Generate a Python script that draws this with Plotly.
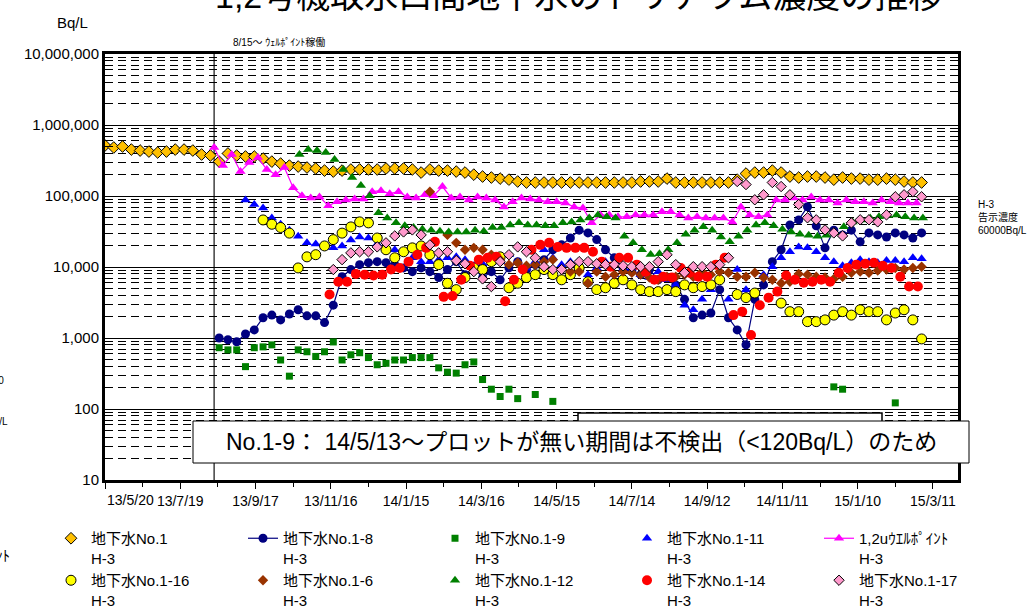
import pandas as pd
import plotly.graph_objects as go

FONT = "Liberation Sans, Arial, Noto Sans CJK JP, sans-serif"

# ---- data (weekly samples, Bq/L) ----
no1_start = "2013-05-20"
no1_vals = [515000, 482000, 498000, 451000, 437000, 423000, 410000, 423000, 451000, 451000, 437000, 384000,
            372000, 305000, 397000, 372000, 360000, 360000, 337000, 305000, 286000, 268000, 260000, 252000,
            244000, 228000, 221000, 228000, 236000, 236000, 236000, 236000, 244000, 244000, 244000, 236000,
            214000, 236000, 228000, 228000, 221000, 214000, 200000, 188000, 182000, 176000, 170000, 160000,
            155000, 155000, 155000, 155000, 155000, 155000, 155000, 155000, 155000, 155000, 155000, 155000,
            155000, 160000, 160000, 160000, 176000, 155000, 155000, 155000, 155000, 155000, 155000, 155000,
            170000, 207000, 214000, 214000, 228000, 214000, 188000, 182000, 188000, 188000, 182000, 170000,
            182000, 176000, 176000, 170000, 170000, 176000, 170000, 160000, 155000, 155000]

no1_8_start = "2013-08-19"
no1_8_vals = [1000, 944, 884, 1140, 1300, 1930, 2100, 1800, 2180, 2500,
              2050, 2050, 1650, 2900, 7300, 9200, 10800, 11500, 11900, 11500,
              10800, 9700, 8600, 9700, 8600, 7100, 9200, 11900, 7800, 9700,
              7100, 8600, 6600, 9700, 11900, 9200, 10800, 12700, 17500, 20500,
              25600, 33000, 30200, 24300, 17500, 13500, 9700, 8600, 7800, 9200,
              6600, 7100, 5600, 3500, 1930, 2100, 2250, 4800, 1930, 1300,
              802, 3500, 5600, 11900, 17500, 39000, 46000, 70500, 38000, 18600,
              33000, 28300, 33000, 22600, 30200, 28300, 26500, 30200, 28300, 25600, 30200]

no1_9_start = "2013-08-19"
no1_9_vals = [730, 680, 680, 395, 730, 750, 800, 490, 290, 680,
              640, 550, 640, 880, 490, 580, 620, 530, 420, 440,
              490, 490, 530, 530, 530, 380, 330, 320, 420, 460,
              260, 190, 150, 190, 140, None, 160, None, 128, None,
              None, None, None, None, None, None, None, None, None, None,
              None, None, None, None, None, None, None, None, None, None,
              None, None, None, None, None, None, None, None, None, None,
              205, 190, None, None, None, None, None, 122]

no1_11_start = "2013-09-09"
no1_11_vals = [88000, 76000, 68000, 49000, 40000, 33000, 27000, 22000, 21000, 19000,
               18600, 19800, 24000, 26500, 25600, 21000, 18600, 17500, 16400, 13500,
               11900, 11900, 12700, 13500, 13900, 12700, 10400, 11100, 11500, 11900,
               14900, 11900, 9700, 11900, 17500, 13500, 10800, 11900, 9700, 7800,
               9700, 11900, 7800, 9200, 9700, 7800, 7100, 8600, 6600, 5600,
               2900, 2500, 3500, 4800, 6600, 3500, 9200, 4800, 4300, 7800,
               10100, 13500, 16400, 19200, 18600, 16400, 13500, 11900, 10400, 11500,
               12700, 11900, 11500, 12300, 12300, 11900, 13500, 13100]

wp_start = "2013-08-15"
wp_vals = [482000, 268000, 384000, 221000, 296000, 348000, 236000, 200000, 252000, 131000,
           101000, 94000, 97000, 73000, 83000, 88000, 91000, 91000, 115000, 119000,
           108000, 115000, 97000, 94000, 104000, 101000, 136000, 94000, 97000, 88000,
           97000, 94000, 88000, 70000, 83000, 94000, 91000, 88000, 83000, 83000,
           80000, 70000, 68000, 42000, 54000, 54000, 51000, 51000, 54000, 54000,
           54000, 60000, 60000, 54000, 49000, 51000, 49000, 49000, 49000, 43000,
           70000, 54000, 51000, 54000, 88000, 88000, 94000, 88000, 97000, 88000,
           88000, 80000, 88000, 83000, 83000, 80000, 88000, 83000, 80000, 80000, 80000]

no1_16_start = "2013-09-23"
no1_16_vals = [46000, 40000, 36000, 30000, 9700, 13900, 14900, 19800, 24300, 30000,
               36700, 43200, 41800, 25600, 17500, 13500, 16400, 18600, 19800, 14900,
               10800, 5900, 4800, 7100, 9700, 9200, 11900, 13900, 5100, 5900,
               7100, 7800, 9200, 7800, 6600, 7800, 9700, 6200, 4800, 5100,
               5900, 6600, 5600, 4800, 4500, 4500, 4800, 4500, 5600, 5100,
               5300, 5600, 6600, None, 4100, 3700, 4300, None, None, 3100,
               2350, 2350, 1700, 1700, 1800, 2100, 2350, 2100, 2500, 2350,
               2350, 1800, 2250, 2500, 1800, 970]

no1_6_start = "2014-02-03"
no1_6_vals = [115000, None, 28300, 21900, 17500, 18600, 17500, 14900, 12700, 10800,
              11500, 10400, 10800, 11900, 12700, 9200, 8600, 8600, 5900, 8600,
              7300, 7800, 8600, 8300, 7800, 7100, 6600, 7300, 7300, 7800,
              7300, 8600, 7800, 8600, 8300, 7300, 7300, 8300, 7100, 6600,
              5900, 6200, 8000, 7800, 7300, 7100, 6800, 7300, 8300, 8600,
              8300, 8900, 9200, 9700, 9200, 9700, 10100]

no1_12_start = "2013-10-22"
no1_12_vals = [384000, 451000, 437000, 410000, 326000, 236000, 182000, 140000, 101000, 58000,
               49000, 42000, 38000, 36000, 34000, 33000, 32000, 31000, 31000, 31000,
               33000, 32000, 36000, 36000, 39000, 42000, 39000, 39000, 38000, 38000,
               42000, 43000, 46000, 49000, 54000, 51000, 49000, 27000, 22000, 17500,
               15000, 15400, 17500, 22000, 29000, 33000, 37000, 33000, 26500, 22600,
               27000, 33000, 39000, 42000, 38000, 34000, 31000, 29000, 28000, 27000,
               28000, 30000, 37000, 43000, 46000, 49000, 51000, 53000, 54000, 51000, 49000, 49000]

no1_14_start = "2013-11-15"
no1_14_vals = [4100, 6200, 6200, 8000, 7800, 7600, 7800, 9200, 9700, 11900,
               14900, 18600, 22600, 3800, 3900, 6600, 10400, 12700, 13500, 13900,
               3300, 6600, 9200, 17500, 20500, 21900, 19200, 18600, 18600, 18600,
               16400, 11900, 10100, 13500, 13500, 10800, 8600, 6600, 7300, 7100,
               9700, 8300, 7300, 7300, 10800, 13500, 2100, 2350, 1100, 2900,
               3700, 4500, 7600, 6600, 6000, 6200, 6600, 6200, 8300, 9700,
               10800, 11100, 11500, 10400, 9700, 7300, 5300, 5300]

no1_17_start = "2013-11-18"
no1_17_vals = [9200, 12700, 15800, 16400, 16400, 19200, 21900, 27400, 31200, 33300,
               28300, 20500, 15800, 16400, 12300, 11100, 8600, 6800, 5300, 11900,
               14900, 19200, 16400, 13500, 10100, 9200, 9200, 10800, 11900, 11900,
               11100, 10800, 10800, 10400, 10100, 10100, 10100, 11900, 14900, 10800,
               8300, 10100, 10100, 10100, 10800, 13500, 160000, 145000, 88500, 104000,
               155000, 136000, 104000, 76000, 49300, 46200, 33300, 30200, 27400, 41800,
               46200, 46200, 43200, 54300, 97500, 104000, 115000, 97500]

x_tick_dates = ["2013-05-20", "2013-07-19", "2013-09-17", "2013-11-16", "2014-01-15", "2014-03-16",
                "2014-05-15", "2014-07-14", "2014-09-12", "2014-11-11", "2015-01-10", "2015-03-11"]
x_tick_labels = ["13/5/20", "13/7/19", "13/9/17", "13/11/16", "14/1/15", "14/3/16",
                 "14/5/15", "14/7/14", "14/9/12", "14/11/11", "15/1/10", "15/3/11"]
y_tick_vals = [10, 100, 1000, 10000, 100000, 1000000, 10000000]
y_tick_labels = ["10", "100", "1,000", "10,000", "100,000", "1,000,000", "10,000,000"]

limit_value = 60000          # H-3 告示濃度
wellpoint_start = "2013-08-15"


def weekly(start, vals):
    return pd.date_range(start, periods=len(vals), freq="7D")


# ---- page geometry ----
W, H = 1030, 608
ML, MR, MT, MB = 105, 72, 54, 128
PW, PH = W - ML - MR, H - MT - MB


def px(x):
    return (x - ML) / PW


def py(y):
    return (H - MB - y) / PH


fig = go.Figure()

series = [
    ("地下水No.1<br>H-3", no1_start, no1_vals, "markers",
     dict(symbol="diamond", size=9, color="#FFC000", line=dict(color="black", width=1))),
    ("地下水No.1-8<br>H-3", no1_8_start, no1_8_vals, "lines+markers",
     dict(symbol="circle", size=9, color="#000080", line=dict(width=0))),
    ("地下水No.1-9<br>H-3", no1_9_start, no1_9_vals, "markers",
     dict(symbol="square", size=7, color="#008000", line=dict(width=0))),
    ("地下水No.1-11<br>H-3", no1_11_start, no1_11_vals, "markers",
     dict(symbol="triangle-up", size=9, color="#0000FF", line=dict(width=0))),
    ("1,2uｳｴﾙﾎﾟｲﾝﾄ<br>H-3", wp_start, wp_vals, "lines+markers",
     dict(symbol="triangle-up", size=9, color="#FF00FF", line=dict(width=0))),
    ("地下水No.1-16<br>H-3", no1_16_start, no1_16_vals, "markers",
     dict(symbol="circle", size=10, color="#FFFF00", line=dict(color="black", width=1))),
    ("地下水No.1-6<br>H-3", no1_6_start, no1_6_vals, "markers",
     dict(symbol="diamond", size=8, color="#993300", line=dict(width=0))),
    ("地下水No.1-12<br>H-3", no1_12_start, no1_12_vals, "markers",
     dict(symbol="triangle-up", size=9, color="#008000", line=dict(width=0))),
    ("地下水No.1-14<br>H-3", no1_14_start, no1_14_vals, "markers",
     dict(symbol="circle", size=10, color="#FF0000", line=dict(width=0))),
    ("地下水No.1-17<br>H-3", no1_17_start, no1_17_vals, "markers",
     dict(symbol="diamond", size=8, color="#FF99CC", line=dict(color="black", width=1))),
]

for name, start, vals, mode, marker in series:
    fig.add_trace(go.Scatter(
        x=weekly(start, vals), y=vals, mode=mode, name=name, marker=marker,
        line=dict(color=marker["color"], width=1.2), connectgaps=False,
    ))

minor_y = [m * 10 ** e for e in range(1, 7) for m in range(2, 10)]

fig.update_layout(
    width=W, height=H,
    margin=dict(l=ML, r=MR, t=MT, b=MB, autoexpand=False),
    paper_bgcolor="white", plot_bgcolor="white",
    font=dict(family=FONT, color="black", size=14),
    showlegend=True,
    legend=dict(orientation="h", x=px(51), y=py(522), xanchor="left", yanchor="top",
                entrywidth=147, entrywidthmode="pixels", valign="top",
                font=dict(size=15, family=FONT), bgcolor="rgba(0,0,0,0)", traceorder="normal"),
    xaxis=dict(
        type="date", range=["2013-05-20", "2015-03-31"],
        tickmode="array", tickvals=x_tick_dates, ticktext=[""] + x_tick_labels[1:],
        ticks="outside", ticklen=6, tickwidth=1, tickcolor="black",
        tickfont=dict(size=14), showgrid=False, zeroline=False,
        showline=True, linewidth=3, linecolor="black", mirror=True,
        minor=dict(tickmode="linear", tick0="2013-05-20", dtick=30 * 86400000,
                   ticks="outside", ticklen=4, tickcolor="black", showgrid=False),
    ),
    yaxis=dict(
        type="log", range=[1, 7],
        tickmode="array", tickvals=y_tick_vals, ticktext=y_tick_labels,
        ticks="inside", ticklen=8, tickcolor="black", tickfont=dict(size=15),
        showgrid=True, gridcolor="black", gridwidth=1,
        showline=True, linewidth=3, linecolor="black", mirror=True, zeroline=False,
        minor=dict(tickmode="array", tickvals=minor_y, ticks="inside", ticklen=8,
                   tickcolor="black", showgrid=True, gridcolor="black",
                   griddash="8px,5px", gridwidth=1),
    ),
)

# well point start marker line
fig.add_shape(type="line", xref="x", yref="paper", x0=wellpoint_start, x1=wellpoint_start,
              y0=0, y1=1, line=dict(color="#404040", width=1.5), layer="below")

# note boxes
fig.add_shape(type="rect", xref="paper", yref="paper", x0=px(578), x1=px(882), y0=py(440), y1=py(413),
              line=dict(color="black", width=1.5), fillcolor="white", layer="above")
fig.add_shape(type="rect", xref="paper", yref="paper", x0=px(193), x1=px(969), y0=py(463), y1=py(421),
              line=dict(color="black", width=1), fillcolor="white", layer="above")

annotations = [
    dict(text="1,2号機取水口間地下水のトリチウム濃度の推移", x=px(578), y=py(17), yanchor="bottom",
         font=dict(size=34)),
    dict(text="Bq/L", x=px(72), y=py(22), font=dict(size=15)),
    dict(text="8/15～ ｳｪﾙﾎﾟｲﾝﾄ稼働", x=px(231), y=py(42), xanchor="left", font=dict(size=10)),
    dict(text="H-3<br>告示濃度<br>60000Bq/L", x=px(976), y=py(217), xanchor="left", align="left",
         font=dict(size=10)),
    dict(text="No.1-9： 14/5/13～プロットが無い期間は不検出（<120Bq/L）のため", x=px(581), y=py(442),
         font=dict(size=23)),
    dict(text=x_tick_labels[0], x=x_tick_dates[0], xref="x", y=py(500), xanchor="left",
         font=dict(size=14)),
    dict(text="60000", x=px(6), y=py(380), xanchor="right", font=dict(size=10)),
    dict(text="Bq/L", x=px(10), y=py(421), xanchor="right", font=dict(size=10)),
    dict(text="ｳｴﾙﾎﾟｲﾝﾄ", x=px(12), y=py(555), xanchor="right", font=dict(size=15)),
]
for a in annotations:
    base = dict(xref="paper", yref="paper", showarrow=False, yanchor="middle", xanchor="center")
    base.update(a)
    fig.add_annotation(**base)

# arrow pointing at the limit value
fig.add_annotation(x=px(959), xref="paper", y=limit_value, yref="y", text="", showarrow=True,
                   arrowhead=2, arrowsize=1, arrowwidth=1.5, arrowcolor="red", ax=18, ay=0)

fig.write_html("out.html")
